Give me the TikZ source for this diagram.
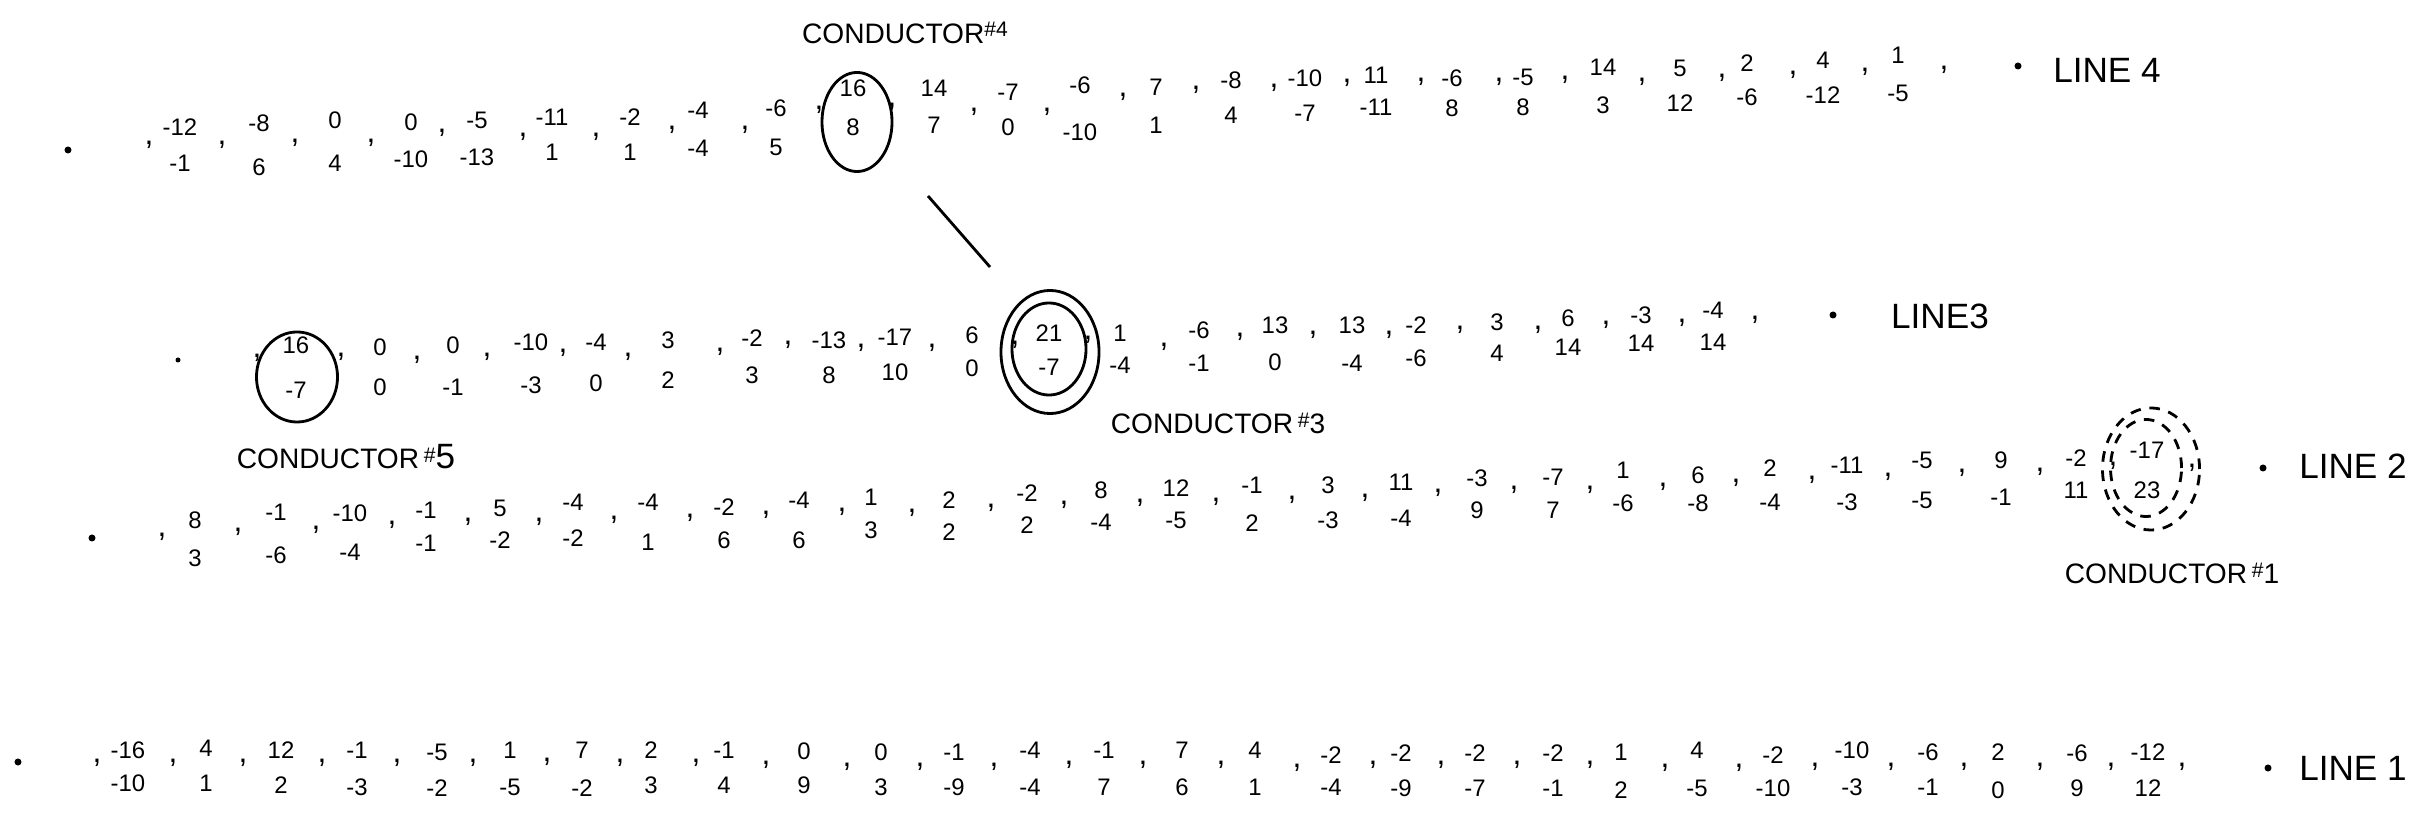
\documentclass[tikz,border=0pt]{standalone}
\usepackage{fontspec}
\setmainfont{Liberation Sans}
\usetikzlibrary{shapes.geometric}
\tikzset{
  num/.style={inner sep=0pt, font=\fontsize{6.8}{7}\selectfont},
  cma/.style={inner sep=0pt, font=\fontsize{9}{9}\selectfont},
  lbl/.style={inner sep=0pt, font=\fontsize{10}{10}\selectfont},
  cond/.style={inner sep=0pt, font=\fontsize{8}{8}\selectfont},
  dotn/.style={circle, fill, inner sep=0pt, minimum size=0.07cm},
  ring/.style={ellipse, draw, line width=0.8pt, inner sep=0pt},
  dring/.style={ring, dash pattern=on 3pt off 2.5pt},
}
\newcommand{\hsh}[1]{\,{\fontsize{6}{6}\selectfont\raisebox{0.55ex}{\#}}#1}
\begin{document}
\begin{tikzpicture}[x=0.01cm, y=-0.01cm]
\useasboundingbox (0,0) rectangle (2421,819);

% ---------------- LINE 4 ----------------
\node[dotn] (s4) at (68,150) {};
\foreach \xx/\ya/\ta/\yb/\tb [count=\i] in {
 180/127/-12/163/-1, 259/123/-8/167/6, 335/120/0/163/4, 411/122/0/159/-10,
 477/120/-5/157/-13, 552/117/-11/152/1, 630/117/-2/152/1, 698/110/-4/148/-4,
 776/108/-6/147/5, 853/88/16/127/8, 934/88/14/125/7, 1008/92/-7/127/0,
 1080/85/-6/132/-10, 1156/87/7/125/1, 1231/80/-8/115/4, 1305/78/-10/113/-7,
 1376/75/11/107/-11, 1452/78/-6/108/8, 1523/77/-5/107/8, 1603/67/14/105/3,
 1680/68/5/103/12, 1747/63/2/97/-6, 1823/60/4/95/-12, 1898/55/1/93/-5}
{ \node[num] (a4-\i) at (\xx,\ya) {\ta}; \node[num] (b4-\i) at (\xx,\yb) {\tb}; }
\foreach \xx/\yy [count=\i] in {
 149/145, 222/145, 295/143, 371/143, 442/133, 523/137, 596/137, 672/130,
 745/130, 819/110, 892/107, 974/112, 1047/112, 1123/97, 1196/90, 1274/88,
 1347/83, 1421/82, 1499/82, 1565/80, 1642/82, 1722/78, 1793/75, 1865/72, 1944/70}
{ \node[cma] (c4-\i) at (\xx,\yy) {,}; }
\node[dotn] (e4) at (2018,66) {};
\node[lbl] (line4) at (2107,70) {LINE 4};
\node[ring, minimum width=0.70cm, minimum height=0.99cm] (k4) at (857,122) {};
\node[cond] (t4) at (905,33) {CONDUCTOR{\fontsize{6}{6}\selectfont\raisebox{0.6ex}{\#4}}};

% ---------------- LINE 3 ----------------
\node[dotn, minimum size=0.05cm] (s3) at (178,360) {};
\foreach \xx/\ya/\ta/\yb/\tb [count=\i] in {
 296/345/16/390/-7, 380/347/0/387/0, 453/345/0/387/-1, 531/342/-10/385/-3,
 596/342/-4/383/0, 668/340/3/380/2, 752/338/-2/375/3, 829/340/-13/375/8,
 895/337/-17/372/10, 972/335/6/368/0, 1049/333/21/367/-7, 1120/333/1/365/-4,
 1199/330/-6/363/-1, 1275/325/13/362/0, 1352/325/13/363/-4, 1416/325/-2/358/-6,
 1497/322/3/353/4, 1568/318/6/347/14, 1641/315/-3/343/14, 1713/310/-4/342/14}
{ \node[num] (a3-\i) at (\xx,\ya) {\ta}; \node[num] (b3-\i) at (\xx,\yb) {\tb}; }
\foreach \xx/\yy [count=\i] in {
 257/358, 341/357, 417/360, 487/357, 563/353, 628/357, 720/352, 788/345,
 861/348, 932/348, 1015/345, 1088/340, 1164/347, 1240/337, 1313/335, 1389/335,
 1460/330, 1538/330, 1606/325, 1682/323, 1755/320}
{ \node[cma] (c3-\i) at (\xx,\yy) {,}; }
\node[dotn] (e3) at (1833,315) {};
\node[lbl] (line3) at (1940,316) {LINE3};
\node[ring, minimum width=0.81cm, minimum height=0.90cm] (k5) at (297,377) {};
\node[cond] (t5) at (346,457) {CONDUCTOR\hsh{\fontsize{10}{10}\selectfont 5}};
\node[ring, minimum width=0.98cm, minimum height=1.23cm] (k3o) at (1050,352) {};
\node[ring, minimum width=0.74cm, minimum height=0.92cm] (k3i) at (1049,349) {};
\node[cond] (t3) at (1218,423) {CONDUCTOR\hsh{3}};

% connector conductor 4 -> conductor 3
\coordinate (p1) at (928,196);
\coordinate (p2) at (990,267);
\draw[line width=0.8pt] (p1) -- (p2);

% ---------------- LINE 2 ----------------
\node[dotn] (s2) at (92,538) {};
\foreach \xx/\ya/\ta/\yb/\tb [count=\i] in {
 195/520/8/558/3, 276/512/-1/555/-6, 350/513/-10/552/-4, 426/510/-1/543/-1,
 500/508/5/540/-2, 573/502/-4/538/-2, 648/502/-4/542/1, 724/507/-2/540/6,
 799/500/-4/540/6, 871/497/1/530/3, 949/500/2/532/2, 1027/493/-2/525/2,
 1101/490/8/522/-4, 1176/488/12/520/-5, 1252/485/-1/523/2, 1328/485/3/520/-3,
 1401/482/11/518/-4, 1477/478/-3/510/9, 1553/477/-7/510/7, 1623/470/1/503/-6,
 1698/475/6/503/-8, 1770/468/2/502/-4, 1847/465/-11/502/-3, 1922/460/-5/500/-5,
 2001/460/9/497/-1, 2076/458/-2/490/11, 2147/450/-17/490/23}
{ \node[num] (a2-\i) at (\xx,\ya) {\ta}; \node[num] (b2-\i) at (\xx,\yb) {\tb}; }
\foreach \xx/\yy [count=\i] in {
 162/537, 238/532, 316/530, 392/525, 468/522, 539/522, 614/520, 690/518,
 766/515, 842/512, 912/513, 991/508, 1064/505, 1140/503, 1216/502, 1292/500,
 1365/498, 1438/493, 1514/490, 1590/490, 1663/487, 1736/483, 1812/480,
 1888/477, 1962/473, 2040/472, 2113/466, 2192/468}
{ \node[cma] (c2-\i) at (\xx,\yy) {,}; }
\node[dotn] (e2) at (2263,468) {};
\node[lbl] (line2) at (2353,466) {LINE 2};
\node[dring, minimum width=0.97cm, minimum height=1.22cm] (k1o) at (2151,469) {};
\node[dring, minimum width=0.71cm, minimum height=0.97cm] (k1i) at (2146,468) {};
\node[cond] (t1) at (2172,573) {CONDUCTOR\hsh{1}};

% ---------------- LINE 1 ----------------
\node[dotn] (s1) at (18,762) {};
\foreach \xx/\ya/\ta/\yb/\tb [count=\i] in {
 128/750/-16/783/-10, 206/748/4/783/1, 281/750/12/785/2, 357/750/-1/787/-3,
 437/752/-5/788/-2, 510/750/1/787/-5, 582/750/7/788/-2, 651/750/2/785/3,
 724/750/-1/785/4, 804/751/0/785/9, 881/752/0/787/3, 954/752/-1/787/-9,
 1030/750/-4/787/-4, 1104/750/-1/787/7, 1182/750/7/787/6, 1255/750/4/787/1,
 1331/755/-2/787/-4, 1401/753/-2/788/-9, 1475/753/-2/788/-7, 1553/753/-2/788/-1,
 1621/752/1/790/2, 1697/750/4/788/-5, 1773/755/-2/788/-10, 1852/750/-10/787/-3,
 1928/752/-6/787/-1, 1998/752/2/790/0, 2077/753/-6/788/9, 2148/752/-12/788/12}
{ \node[num] (a1-\i) at (\xx,\ya) {\ta}; \node[num] (b1-\i) at (\xx,\yb) {\tb}; }
\foreach \xx/\yy [count=\i] in {
 97/763, 173/763, 243/763, 322/763, 397/763, 473/763, 547/762, 620/763,
 696/763, 766/765, 847/767, 920/767, 994/767, 1069/765, 1143/765, 1221/765,
 1297/768, 1373/765, 1441/765, 1517/765, 1590/765, 1665/768, 1739/768,
 1815/767, 1891/767, 1964/767, 2040/767, 2111/767, 2182/767}
{ \node[cma] (c1-\i) at (\xx,\yy) {,}; }
\node[dotn] (e1) at (2268,768) {};
\node[lbl] (line1) at (2353,768) {LINE 1};
\end{tikzpicture}
\end{document}
